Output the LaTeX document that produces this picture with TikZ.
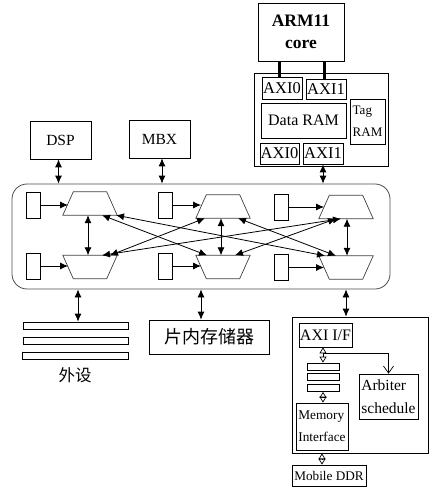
\documentclass[tikz,border=0pt]{standalone}
\usepackage{fontspec}
\setmainfont{Liberation Serif}
\newfontfamily\cjk{Noto Sans CJK SC}
\usetikzlibrary{arrows.meta,calc}
\begin{document}
\begin{tikzpicture}[x=1pt,y=-1pt,
  box/.style={draw, inner sep=0pt, line width=0.7pt},
  fsz/.style={font=\fontsize{#1}{#1}\selectfont},
  trapbox/.style={minimum width=54pt, minimum height=23pt, inner sep=0pt},
  trapline/.style={draw=black!75, line width=0.7pt},
  port/.style={box, minimum width=14pt, minimum height=26pt},
  bar/.style={box, minimum height=7pt},
  dbl/.style={line width=0.8pt, arrows={Latex[length=8pt,width=7pt]-Latex[length=8pt,width=7pt]}},
  sgl/.style={line width=0.8pt, arrows={-Latex[length=8pt,width=7pt]}},
  dia/.style={line width=0.7pt, arrows={Triangle[open,length=6pt,width=7pt]-Triangle[open,length=6pt,width=7pt]}}
]
\useasboundingbox (0,0) rectangle (443,489);

% ARM11 and cache
\node[box, minimum width=86pt, minimum height=58pt, align=center, font=\bfseries\fontsize{17.5}{22}\selectfont] (arm) at (301,32) {ARM11\\core};
\node[box, minimum width=134pt, minimum height=93pt] (cache) at (321,119.5) {};
\node[box, minimum width=40pt, minimum height=22pt, fsz=16.5] (axi0t) at (282,88) {AXI0};
\node[box, minimum width=40pt, minimum height=20pt, fsz=16.5] (axi1t) at (326,89) {AXI1};
\node[box, minimum width=85pt, minimum height=35pt, fsz=16] (dram) at (303.5,120.5) {Data RAM};
\node[box, minimum width=35pt, minimum height=45pt, align=left, font=\fontsize{13}{22}\selectfont] (tag) at (367.5,121.5) {Tag\\RAM};
\node[box, minimum width=39pt, minimum height=21pt, fsz=16.5] (axi0b) at (279.5,153.5) {AXI0};
\node[box, minimum width=40pt, minimum height=21pt, fsz=16.5] (axi1b) at (323,153.5) {AXI1};
\coordinate (k0) at ([xshift=-3pt]axi0t.north);
\coordinate (k1) at ([xshift=-2pt]axi1t.north);
\draw[line width=3pt] (k0 |- arm.south) -- (k0);
\draw[line width=3pt] (k1 |- arm.south) -- (k1);

% DSP, MBX
\node[box, minimum width=61pt, minimum height=38pt, fsz=15.5] (dsp) at (60.5,140) {DSP};
\node[box, minimum width=61pt, minimum height=38pt, fsz=15.5] (mbx) at (159.5,139) {MBX};

% bus
\node[draw=black!70, line width=0.8pt, rounded corners=15pt, minimum width=378pt, minimum height=105pt, inner sep=0pt] (bus) at (201,236.5) {};

\node[port] (r1) at (33,205) {};
\node[port] (r2) at (33,266) {};
\node[port] (r3) at (165,205) {};
\node[port] (r4) at (165,266) {};
\node[port] (r5) at (281,207) {};
\node[port] (r6) at (281,267.5) {};

\node[trapbox] (tl) at (90,203.5) {};
\node[trapbox] (tm) at (223,206.5) {};
\node[trapbox] (tr) at (346,207) {};
\node[trapbox] (bl) at (90,267) {};
\node[trapbox] (bm) at (223,267) {};
\node[trapbox] (br) at (346,267.5) {};
\foreach \n in {tl,tm,tr}
  \draw[trapline] (\n.south west) -- ([xshift=10.5pt]\n.north west) -- ([xshift=-10.5pt]\n.north east) -- (\n.south east) -- cycle;
\foreach \n in {bl,bm,br}
  \draw[trapline] (\n.north west) -- ([xshift=10.5pt]\n.south west) -- ([xshift=-10.5pt]\n.south east) -- (\n.north east) -- cycle;

\draw[sgl] (r1.east) -- ([xshift=5.25pt]r1.east -| tl.west);
\draw[sgl] (r2.east) -- ([xshift=5.25pt]r2.east -| bl.west);
\draw[sgl] (r3.east) -- ([xshift=5.25pt]r3.east -| tm.west);
\draw[sgl] (r4.east) -- ([xshift=5.25pt]r4.east -| bm.west);
\draw[sgl] (r5.east) -- ([xshift=5.25pt]r5.east -| tr.west);
\draw[sgl] (r6.east) -- ([xshift=5.25pt]r6.east -| br.west);

\draw[dbl] ([xshift=-2pt]tl.south) -- ([xshift=-2pt]bl.north);
\draw[dbl] ([xshift=-2pt]tm.south) -- ([xshift=-2pt]bm.north);
\draw[dbl] ([xshift=1pt]tr.south) -- ([xshift=1pt]br.north);

\draw[dbl] ([xshift=12pt]tl.south) -- ([xshift=-16pt]bm.north);
\draw[dbl] ([xshift=26pt]tl.south) -- ([xshift=-21pt]br.north);
\draw[dbl] ([xshift=-18pt]tm.south) -- ([xshift=20pt]bl.north);
\draw[dbl] ([xshift=15pt]tm.south) -- ([xshift=-10pt]br.north);
\draw[dbl] ([xshift=12pt]bm.north) -- ([xshift=-10pt]tr.south);
\draw[dbl] ([xshift=12pt]bl.north) -- ([xshift=-5pt]tr.south);

% connections to bus
\coordinate (c1) at ([xshift=-2pt]dsp.south);
\coordinate (c2) at ([xshift=2.5pt]mbx.south);
\draw[dbl] (c1) -- (c1 |- bus.north);
\draw[dbl] (c2) -- (c2 |- bus.north);
\draw[dbl] (axi1b.south) -- (axi1b.south |- bus.north);

% peripherals
\node[bar, minimum width=105pt] (b1) at (75.5,325.5) {};
\node[bar, minimum width=105pt] (b2) at (75.5,341) {};
\node[bar, minimum width=106pt] (b3) at (75,355.5) {};
\node[font=\cjk\fontsize{16.5}{16.5}\selectfont] (per) at (75,375) {外设};
\node[box, minimum width=120pt, minimum height=34pt, font=\cjk\fontsize{18}{18}\selectfont] (mem) at (209,337) {片内存储器};

% memory controller
\node[box, minimum width=136pt, minimum height=136pt] (mc) at (360,385) {};
\node[box, minimum width=53pt, minimum height=24pt, fsz=16] (axiif) at (325.5,335) {AXI I/F};
\node[bar, minimum width=32pt] (m1) at (323,366.5) {};
\node[bar, minimum width=32pt] (m2) at (323,377) {};
\node[bar, minimum width=32pt] (m3) at (323,388) {};
\node[box, minimum width=59pt, minimum height=45pt, align=left, font=\fontsize{15.5}{23}\selectfont] (arb) at (388.5,396.5) {Arbiter\\schedule};
\node[box, minimum width=52pt, minimum height=47pt, align=left, font=\fontsize{13.3}{22}\selectfont] (memif) at (322,426.5) {Memory\\Interface};
\node[box, minimum width=74pt, minimum height=21pt, fsz=13.2] (ddr) at (329,475.5) {Mobile DDR};

\coordinate (c4) at ([xshift=2.5pt]b1.north);
\coordinate (c5) at ([xshift=-8pt]mem.north);
\coordinate (c6) at ([xshift=-14pt]mc.north);
\draw[dbl] (c4 |- bus.south) -- (c4);
\draw[dbl] (c5 |- bus.south) -- (c5);
\draw[dbl] (c6 |- bus.south) -- (c6);

\draw[dia] (m1.north |- axiif.south) -- (m1.north);
\coordinate (j) at ($(m1.north)+(0,-9)$);
\draw[line width=0.7pt, -{Straight Barb[length=7pt,width=10pt]}] (j) -| (arb.north);
\draw[dia] (m3.south) -- (m3.south |- memif.north);
\draw[dia] (memif.south |- mc.south) -- (memif.south |- ddr.north);
\end{tikzpicture}
\end{document}
